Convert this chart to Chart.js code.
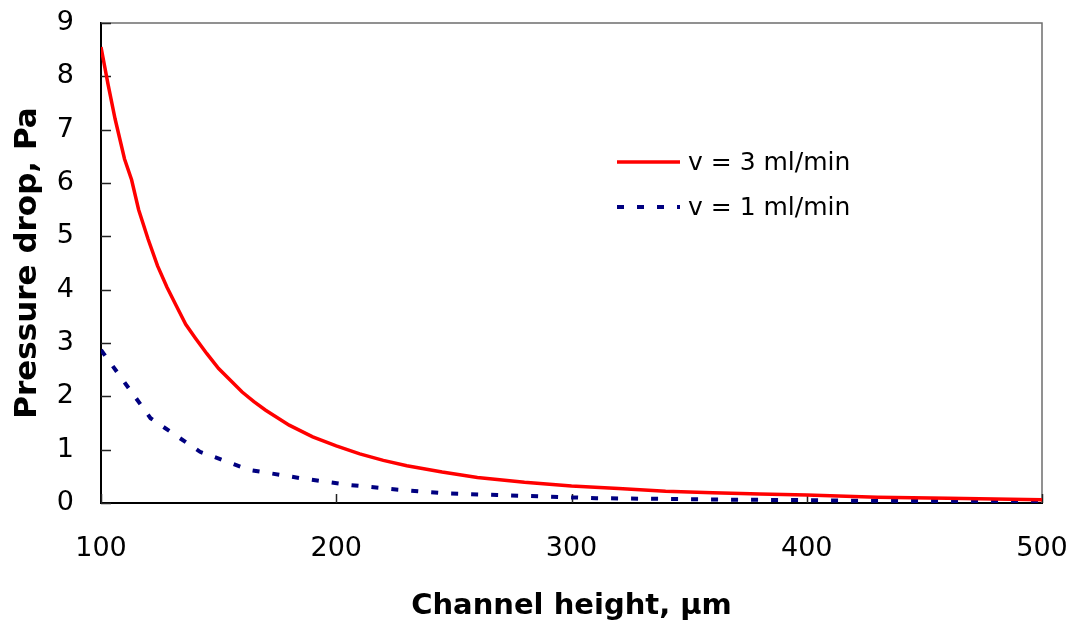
<!DOCTYPE html>
<html>
<head>
<meta charset="utf-8">
<script src="https://cdn.jsdelivr.net/npm/chart.js@4.4.1/dist/chart.umd.min.js"></script>
<style>
html,body{margin:0;padding:0;background:#ffffff;}
#wrap{width:1072px;height:621px;position:relative;}
</style>
</head>
<body>
<div id="wrap"><canvas id="c" width="1072" height="621"></canvas></div>
<script>
// ---- data ----
const heights3 = [100,103,106,110,113,116,120,124,128,132,136,140,145,150,155,160,165,170,180,190,200,210,220,230,245,260,280,300,320,340,360,380,400,430,460,500];
const pressure3 = [8.55,7.85,7.2,6.45,6.06,5.5,4.95,4.45,4.05,3.7,3.35,3.1,2.8,2.52,2.3,2.08,1.9,1.74,1.46,1.24,1.07,0.92,0.80,0.70,0.58,0.48,0.39,0.32,0.27,0.22,0.19,0.17,0.15,0.11,0.09,0.06];
const heights1 = [100,121.05,142.1,163.15,184.2,205.25,226.3,247.35,268.4,289.45,310.5,331.55,352.6,373.65,394.7,415.75,436.8,457.85,478.9,500];
const pressure1 = [2.87,1.59,0.96,0.62,0.47,0.34,0.25,0.18,0.15,0.12,0.09,0.08,0.07,0.06,0.055,0.045,0.04,0.035,0.03,0.025];
const xTickValues = [100,200,300,400,500];
const yTickValues = [0,1,2,3,4,5,6,7,8,9];
const seriesLabels = ['v = 3 ml/min','v = 1 ml/min'];
const xTitle = 'Channel height, \u00b5m';
const yTitle = 'Pressure drop, Pa';

const FONT = "'DejaVu Sans', 'Liberation Sans', Arial, sans-serif";

function toXY(xs, ys){ return xs.map((x,i)=>({x:x,y:ys[i]})); }
function zeroPad(s){ s.paddingTop = 0; s.paddingBottom = 0; s.paddingLeft = 0; s.paddingRight = 0; }

const decor = {
  id:'decor',
  beforeDatasetsDraw(chart){
    const {ctx, chartArea:a, scales:{x,y}} = chart;
    ctx.save();
    // top and right frame
    ctx.strokeStyle = '#6e6e6e';
    ctx.lineWidth = 1.5;
    ctx.beginPath();
    ctx.moveTo(a.left, a.top); ctx.lineTo(a.right, a.top); ctx.lineTo(a.right, a.bottom);
    ctx.stroke();
    // inward tick marks
    ctx.strokeStyle = '#222';
    ctx.lineWidth = 1.5;
    ctx.beginPath();
    yTickValues.forEach(v=>{
      const py = Math.round(y.getPixelForValue(v)) + 0.5;
      ctx.moveTo(a.left, py); ctx.lineTo(a.left + 10, py);
    });
    xTickValues.forEach(v=>{
      const px = Math.round(x.getPixelForValue(v)) + 0.5;
      ctx.moveTo(px, a.bottom); ctx.lineTo(px, a.bottom - 9);
    });
    ctx.stroke();
    ctx.restore();
  },
  afterDraw(chart){
    const {ctx} = chart;
    ctx.save();
    const rows = [162, 207];
    chart.data.datasets.forEach((ds,i)=>{
      const yy = rows[i];
      ctx.strokeStyle = ds.borderColor;
      ctx.lineWidth = ds.borderWidth;
      ctx.lineCap = 'butt';
      ctx.setLineDash(ds.borderDash || []);
      ctx.beginPath();
      ctx.moveTo(617, yy); ctx.lineTo(680, yy);
      ctx.stroke();
      ctx.setLineDash([]);
      ctx.fillStyle = '#000';
      ctx.font = "25px " + FONT;
      ctx.textBaseline = 'middle';
      ctx.textAlign = 'left';
      ctx.fillText(ds.label, 688, yy + 1);
    });
    ctx.restore();
  }
};

new Chart(document.getElementById('c'), {
  type: 'line',
  data: {
    datasets: [
      { label: seriesLabels[0], data: toXY(heights3, pressure3), borderColor: '#ff0000', borderWidth: 3.5, pointRadius: 0, tension: 0, fill: false },
      { label: seriesLabels[1], data: toXY(heights1, pressure1), borderColor: '#000080', borderWidth: 4, borderDash: [7,13], borderCapStyle: 'butt', pointRadius: 0, tension: 0, fill: false }
    ]
  },
  options: {
    responsive: false,
    animation: false,
    devicePixelRatio: 1,
    layout: { padding: { left: 0, right: 30, top: 23, bottom: 0 } },
    plugins: { legend: { display: false }, tooltip: { enabled: false } },
    scales: {
      x: {
        type: 'linear', min: 100, max: 500,
        afterBuildTicks: s => { s.ticks = xTickValues.map(v=>({value:v})); },
        afterFit: s => { s.height = 118; zeroPad(s); },
        ticks: { font: { size: 27, family: FONT }, color: '#000', padding: 30, maxRotation: 0 },
        grid: { display: false, drawTicks: false },
        border: { display: true, color: '#000', width: 2 },
        title: { display: true, text: xTitle, color: '#000', font: { size: 29, weight: 'bold', family: FONT, lineHeight: 1 }, padding: 0 }
      },
      y: {
        type: 'linear', min: 0, max: 9,
        afterBuildTicks: s => { s.ticks = yTickValues.map(v=>({value:v})); },
        afterFit: s => { s.width = 101; zeroPad(s); },
        ticks: { font: { size: 27, family: FONT }, color: '#000', padding: 27 },
        grid: { display: false, drawTicks: false },
        border: { display: true, color: '#000', width: 2 },
        title: { display: true, text: yTitle, color: '#000', font: { size: 31, weight: 'bold', family: FONT, lineHeight: 1 }, padding: { top: 12, bottom: 0 } }
      }
    }
  },
  plugins: [decor]
});
</script>
</body>
</html>
